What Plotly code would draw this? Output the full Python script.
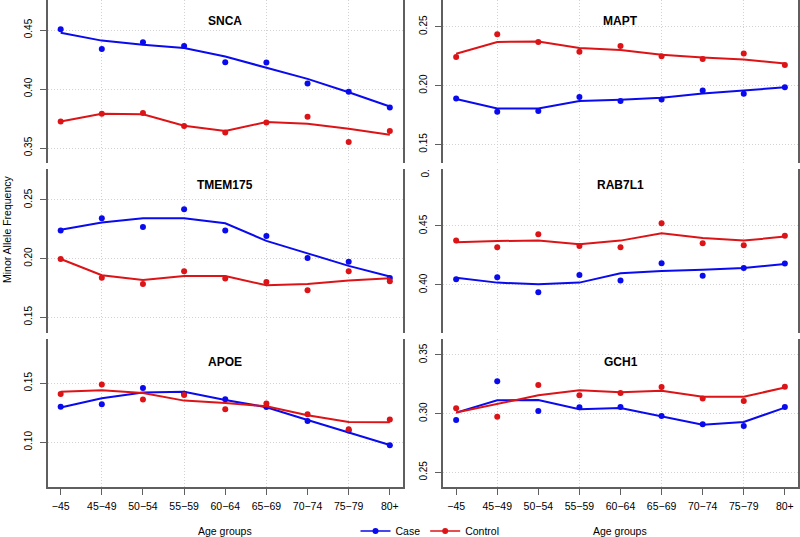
import plotly.graph_objects as go

# ---------------- data ----------------
age_groups = ["−45", "45−49", "50−54", "55−59", "60−64", "65−69", "70−74", "75−79", "80+"]
x_pos = [1, 2, 3, 4, 5, 6, 7, 8, 9]

snca_case_pts = [0.4506, 0.4340, 0.4396, 0.4365, 0.4227, 0.4224, 0.4046, 0.3976, 0.3844]
snca_case_fit = [0.4477, 0.4410, 0.4376, 0.4348, 0.4275, 0.4179, 0.4086, 0.3973, 0.3852]
snca_ctrl_pts = [0.3725, 0.3790, 0.3796, 0.3686, 0.3632, 0.3717, 0.3765, 0.3551, 0.3644]
snca_ctrl_fit = [0.3725, 0.3790, 0.3785, 0.3689, 0.3644, 0.3720, 0.3706, 0.3663, 0.3613]

mapt_case_pts = [0.1891, 0.1778, 0.1783, 0.1902, 0.1868, 0.1882, 0.1959, 0.1931, 0.1985]
mapt_case_fit = [0.1885, 0.1806, 0.1806, 0.1868, 0.1880, 0.1897, 0.1933, 0.1959, 0.1985]
mapt_ctrl_pts = [0.2242, 0.2435, 0.2370, 0.2288, 0.2336, 0.2248, 0.2225, 0.2273, 0.2174]
mapt_ctrl_fit = [0.2271, 0.2370, 0.2375, 0.2319, 0.2302, 0.2262, 0.2239, 0.2222, 0.2188]

tmem_case_pts = [0.2239, 0.2344, 0.2270, 0.2420, 0.2239, 0.2193, 0.2006, 0.1974, 0.1835]
tmem_case_fit = [0.2247, 0.2307, 0.2344, 0.2344, 0.2301, 0.2151, 0.2045, 0.1938, 0.1847]
tmem_ctrl_pts = [0.1997, 0.1838, 0.1784, 0.1892, 0.1830, 0.1801, 0.1730, 0.1892, 0.1807]
tmem_ctrl_fit = [0.1997, 0.1858, 0.1818, 0.1852, 0.1852, 0.1773, 0.1784, 0.1813, 0.1832]

rab_case_pts = [0.4048, 0.4065, 0.3938, 0.4085, 0.4037, 0.4184, 0.4079, 0.4144, 0.4181]
rab_case_fit = [0.4062, 0.4020, 0.4006, 0.4020, 0.4099, 0.4119, 0.4130, 0.4144, 0.4178]
rab_ctrl_pts = [0.4376, 0.4319, 0.4429, 0.4331, 0.4319, 0.4523, 0.4353, 0.4336, 0.4418]
rab_ctrl_fit = [0.4362, 0.4373, 0.4376, 0.4345, 0.4376, 0.4438, 0.4398, 0.4376, 0.4410]

apoe_case_pts = [0.1302, 0.1322, 0.1460, 0.1412, 0.1364, 0.1299, 0.1181, 0.1099, 0.0975]
apoe_case_fit = [0.1294, 0.1373, 0.1421, 0.1427, 0.1359, 0.1297, 0.1189, 0.1085, 0.0977]
apoe_ctrl_pts = [0.1410, 0.1489, 0.1362, 0.1401, 0.1280, 0.1328, 0.1237, 0.1110, 0.1192]
apoe_ctrl_fit = [0.1427, 0.1441, 0.1418, 0.1353, 0.1333, 0.1305, 0.1229, 0.1172, 0.1169]

gch_case_pts = [0.2946, 0.3276, 0.3023, 0.3054, 0.3057, 0.2980, 0.2909, 0.2895, 0.3057]
gch_case_fit = [0.3009, 0.3114, 0.3116, 0.3037, 0.3048, 0.2974, 0.2906, 0.2929, 0.3051]
gch_ctrl_pts = [0.3045, 0.2974, 0.3244, 0.3156, 0.3176, 0.3227, 0.3128, 0.3108, 0.3230]
gch_ctrl_fit = [0.3009, 0.3082, 0.3156, 0.3199, 0.3182, 0.3196, 0.3145, 0.3145, 0.3222]

genes = ["SNCA", "MAPT", "TMEM175", "RAB7L1", "APOE", "GCH1"]
series = {
    "SNCA": (snca_case_pts, snca_case_fit, snca_ctrl_pts, snca_ctrl_fit),
    "MAPT": (mapt_case_pts, mapt_case_fit, mapt_ctrl_pts, mapt_ctrl_fit),
    "TMEM175": (tmem_case_pts, tmem_case_fit, tmem_ctrl_pts, tmem_ctrl_fit),
    "RAB7L1": (rab_case_pts, rab_case_fit, rab_ctrl_pts, rab_ctrl_fit),
    "APOE": (apoe_case_pts, apoe_case_fit, apoe_ctrl_pts, apoe_ctrl_fit),
    "GCH1": (gch_case_pts, gch_case_fit, gch_ctrl_pts, gch_ctrl_fit),
}

# ---------------- layout ----------------
W, H = 800, 537
FONT = "Liberation Sans, Arial, Helvetica, sans-serif"
BLUE = "#0a0aee"
RED = "#dc1417"
AXC = "#5f5f5f"
GRID = "#d2d2d2"
GRID_DASH = "1px,2px"

cols = [(47.5, 403.0), (443.0, 798.0)]
rows = [(0.0, 163.0), (169.0, 333.0), (339.0, 487.0)]
title_dy = [21, 16, 23]
yranges = {
    "SNCA": [0.33729, 0.47542],
    "MAPT": [0.1342, 0.2727],
    "TMEM175": [0.1366, 0.2764],
    "RAB7L1": [0.3593, 0.4983],
    "APOE": [0.0621, 0.1875],
    "GCH1": [0.2375, 0.3636],
}

fig = go.Figure()
layout = dict(
    width=W, height=H,
    margin=dict(l=0, r=0, t=0, b=0, pad=0, autoexpand=False),
    paper_bgcolor="white", plot_bgcolor="white",
    font=dict(family=FONT, size=10.5, color="black"),
    showlegend=True,
    legend=dict(orientation="h", x=430 / W, xanchor="center",
                y=1 - 531 / H, yanchor="middle",
                font=dict(size=10.5), bgcolor="rgba(0,0,0,0)", itemwidth=30),
)
annotations = []

for i, g in enumerate(genes):
    r, c = divmod(i, 2)
    n = i + 1
    xa = "x" if n == 1 else f"x{n}"
    ya = "y" if n == 1 else f"y{n}"
    xkey = "xaxis" if n == 1 else f"xaxis{n}"
    ykey = "yaxis" if n == 1 else f"yaxis{n}"
    x0, x1 = cols[c]
    y0, y1 = rows[r]
    bottom = (r == 2)
    layout[xkey] = dict(
        domain=[x0 / W, x1 / W], anchor=ya, range=[0.68, 9.32],
        tickmode="array", tickvals=x_pos, ticktext=age_groups,
        showticklabels=bottom, ticks="outside" if bottom else "",
        ticklen=6, tickwidth=1.3, tickcolor=AXC, ticklabelstandoff=3,
        showline=bottom, linecolor=AXC, linewidth=1.5,
        showgrid=False, zeroline=False,
        tickfont=dict(size=10.5),
        minor=dict(tick0=0, dtick=2, showgrid=True, gridcolor=GRID,
                   griddash=GRID_DASH, gridwidth=1, ticks=""),
    )
    layout[ykey] = dict(
        domain=[1 - y1 / H, 1 - y0 / H], anchor=xa, range=yranges[g],
        tick0=0, dtick=0.05, tickformat=".2f", tickangle=-90,
        ticks="outside", ticklen=6, tickwidth=1.3, tickcolor=AXC, ticklabelstandoff=4,
        showline=True, mirror=True, linecolor=AXC, linewidth=1.5,
        showgrid=True, gridcolor=GRID, griddash=GRID_DASH, gridwidth=1,
        zeroline=False, tickfont=dict(size=10),
    )
    case_pts, case_fit, ctrl_pts, ctrl_fit = series[g]
    for pts, fit, col in ((case_pts, case_fit, BLUE), (ctrl_pts, ctrl_fit, RED)):
        fig.add_trace(go.Scatter(x=x_pos, y=fit, mode="lines", xaxis=xa, yaxis=ya,
                                 line=dict(color=col, width=2), showlegend=False,
                                 hoverinfo="skip"))
        fig.add_trace(go.Scatter(x=x_pos, y=pts, mode="markers", xaxis=xa, yaxis=ya,
                                 marker=dict(color=col, size=6), showlegend=False))
    annotations.append(dict(text=f"<b>{g}</b>", x=(x0 + x1) / 2 / W, y=1 - (y0 + title_dy[r]) / H,
                            xref="paper", yref="paper", showarrow=False,
                            font=dict(size=12, family=FONT), xanchor="center", yanchor="middle"))

# legend entries
fig.add_trace(go.Scatter(x=[None], y=[None], mode="lines+markers", name="Case",
                         line=dict(color=BLUE, width=1.5), marker=dict(color=BLUE, size=6),
                         xaxis="x5", yaxis="y5"))
fig.add_trace(go.Scatter(x=[None], y=[None], mode="lines+markers", name="Control",
                         line=dict(color=RED, width=1.5), marker=dict(color=RED, size=6),
                         xaxis="x5", yaxis="y5"))

# axis titles
for cx in (225, 620):
    annotations.append(dict(text="Age groups", x=cx / W, y=1 - 531 / H, xref="paper", yref="paper",
                            showarrow=False, font=dict(size=10.5), xanchor="center", yanchor="middle"))
annotations.append(dict(text="Minor Allele Frequency", x=7 / W, y=1 - 229 / H, xref="paper", yref="paper",
                        showarrow=False, textangle=-90, font=dict(size=10.5),
                        xanchor="center", yanchor="middle"))
# clipped tick label at top of RAB7L1 panel
annotations.append(dict(text="0.", x=425 / W, y=1 - 173.5 / H, xref="paper", yref="paper",
                        showarrow=False, textangle=-90, font=dict(size=10),
                        xanchor="center", yanchor="middle"))

layout["annotations"] = annotations
fig.update_layout(**layout)
fig.write_html("out.html", config={"displayModeBar": False},
               post_script="document.body.style.margin='0px';")
